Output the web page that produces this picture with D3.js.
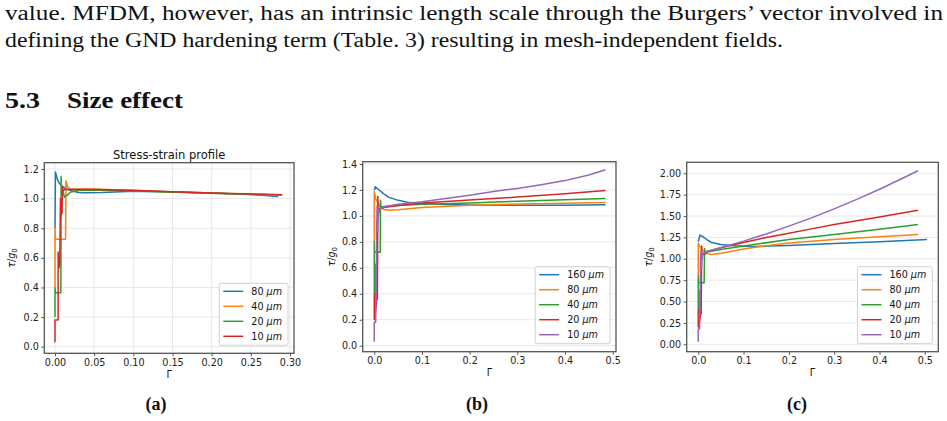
<!doctype html>
<html lang="en">
<head>
<meta charset="UTF-8">
<title>Size effect</title>
<script src="https://cdn.jsdelivr.net/npm/d3@7"></script>
<style>
  body { margin: 0; background: #fff; }
  svg text { font-family: "DejaVu Sans", sans-serif; }
  svg text.paper { font-family: "Liberation Serif", "DejaVu Serif", serif; fill: #111; }
</style>
</head>
<body>
<script>
// ---- data: [Gamma, tau/g0] ----
// (a) stress-strain profile
const sizesA = ["80", "40", "20", "10"];
const a80 = [[0,0.8],[0.0005,1.18],[0.003,1.13],[0.006,1.1],[0.01,1.08],[0.015,1.065],[0.02,1.055],[0.03,1.042],[0.04,1.039],[0.06,1.041],[0.1,1.05],[0.15,1.047],[0.2,1.038],[0.25,1.027],[0.285,1.015]];
const a40 = [[0,0.4],[0,0.8],[0.0005,0.725],[0.0135,0.725],[0.014,1.12],[0.016,1.08],[0.02,1.065],[0.05,1.065],[0.1,1.055],[0.15,1.045],[0.2,1.036],[0.25,1.029],[0.29,1.025]];
const a20 = [[0,0.2],[0,0.4],[0.0005,0.365],[0.0075,0.365],[0.0078,1.15],[0.0082,1.02],[0.009,1.08],[0.012,1.01],[0.015,1.02],[0.02,1.045],[0.03,1.055],[0.05,1.058],[0.1,1.052],[0.2,1.036],[0.29,1.025]];
const a10 = [[0,0.03],[0,0.18],[0.004,0.18],[0.004,0.64],[0.005,0.53],[0.006,0.56],[0.007,1.0],[0.0075,0.88],[0.008,0.95],[0.009,0.9],[0.0095,1.08],[0.01,1.05],[0.012,1.062],[0.05,1.062],[0.1,1.056],[0.15,1.046],[0.2,1.038],[0.25,1.031],[0.29,1.027]];

// (b)
const sizesB = ["160", "80", "40", "20", "10"];
const b160 = [[0,1.2],[0.002,1.225],[0.01,1.2],[0.02,1.17],[0.03,1.145],[0.05,1.12],[0.07,1.105],[0.1,1.095],[0.15,1.088],[0.2,1.084],[0.3,1.082],[0.4,1.083],[0.485,1.086]];
const b80 = [[0,0.8],[0,1.19],[0.003,1.13],[0.008,1.1],[0.012,1.07],[0.02,1.05],[0.03,1.043],[0.05,1.047],[0.1,1.065],[0.2,1.083],[0.3,1.092],[0.4,1.098],[0.485,1.103]];
const b40 = [[0,0.4],[0,0.8],[0.0005,0.72],[0.0125,0.72],[0.013,1.12],[0.014,1.06],[0.016,1.07],[0.03,1.075],[0.05,1.08],[0.1,1.09],[0.2,1.1],[0.3,1.113],[0.4,1.124],[0.485,1.135]];
const b20 = [[0,0.2],[0,0.4],[0.001,0.2],[0.0055,0.365],[0.0058,0.53],[0.0065,0.36],[0.0075,1.15],[0.0085,1.0],[0.01,1.05],[0.02,1.065],[0.05,1.08],[0.1,1.1],[0.2,1.123],[0.3,1.145],[0.4,1.17],[0.485,1.195]];
const b10 = [[0,0.03],[0,0.18],[0.003,0.18],[0.003,0.63],[0.004,0.4],[0.005,0.9],[0.006,1.08],[0.007,0.88],[0.008,1.0],[0.01,1.05],[0.02,1.07],[0.05,1.09],[0.1,1.11],[0.15,1.135],[0.2,1.16],[0.25,1.188],[0.3,1.212],[0.35,1.24],[0.4,1.272],[0.45,1.315],[0.485,1.355]];

// (c)
const sizesC = ["160", "80", "40", "20", "10"];
const c160 = [[0,1.2],[0.004,1.278],[0.01,1.26],[0.02,1.22],[0.03,1.19],[0.05,1.168],[0.08,1.152],[0.12,1.145],[0.2,1.155],[0.3,1.178],[0.4,1.2],[0.505,1.225]];
const c80 = [[0,0.8],[0,1.18],[0.005,1.13],[0.01,1.1],[0.02,1.06],[0.03,1.05],[0.05,1.065],[0.1,1.115],[0.15,1.152],[0.2,1.185],[0.3,1.225],[0.4,1.258],[0.485,1.285]];
const c40 = [[0,0.4],[0,0.8],[0.0005,0.72],[0.013,0.72],[0.014,1.12],[0.015,1.05],[0.02,1.08],[0.05,1.11],[0.1,1.15],[0.2,1.225],[0.3,1.285],[0.4,1.345],[0.485,1.4]];
const c20 = [[0,0.2],[0,0.4],[0.001,0.2],[0.0055,0.36],[0.0058,0.52],[0.0065,0.36],[0.0075,1.15],[0.0085,1.0],[0.01,1.05],[0.02,1.09],[0.05,1.13],[0.1,1.19],[0.15,1.25],[0.2,1.3],[0.25,1.35],[0.3,1.4],[0.4,1.49],[0.485,1.568]];
const c10 = [[0,0.03],[0,0.18],[0.003,0.18],[0.003,0.63],[0.004,0.4],[0.005,0.9],[0.006,1.1],[0.007,0.88],[0.008,1.0],[0.01,1.06],[0.02,1.087],[0.05,1.13],[0.1,1.207],[0.15,1.291],[0.2,1.382],[0.25,1.479],[0.3,1.584],[0.35,1.695],[0.4,1.814],[0.45,1.939],[0.485,2.03]];

// tick values
const ticksAx = [0, 0.05, 0.1, 0.15, 0.2, 0.25, 0.3];
const ticksAy = [0, 0.2, 0.4, 0.6, 0.8, 1.0, 1.2];
const ticksBx = [0, 0.1, 0.2, 0.3, 0.4, 0.5];
const ticksBy = [0, 0.2, 0.4, 0.6, 0.8, 1.0, 1.2, 1.4];
const ticksCx = [0, 0.1, 0.2, 0.3, 0.4, 0.5];
const ticksCy = [0, 0.25, 0.5, 0.75, 1.0, 1.25, 1.5, 1.75, 2.0];

const colors = ["#1f77b4", "#ff7f0e", "#2ca02c", "#d62728", "#9467bd"];
const serif = "'Liberation Serif', 'DejaVu Serif', serif";

const svg = d3.select("body").append("svg")
    .attr("width", 947).attr("height", 421);
svg.append("rect").attr("width", 947).attr("height", 421).attr("fill", "#fff");

// ---- paper text ----
function paperText(x, y, size, len, str, bold) {
  svg.append("text").attr("class", "paper")
      .style("font-family", serif)
      .attr("x", x).attr("y", y).attr("font-size", size)
      .attr("font-weight", bold ? "bold" : null)
      .attr("textLength", len).attr("lengthAdjust", "spacingAndGlyphs")
      .text(str);
}
paperText(5, 20, 20, 938, "value.  MFDM, however, has an intrinsic length scale through the Burgers\u2019 vector involved in");
paperText(5, 47, 20, 778, "defining the GND hardening term (Table. 3) resulting in mesh-independent fields.");
paperText(5, 108, 24, 35, "5.3", true);
paperText(67, 108, 24, 116, "Size effect", true);

// ---- panels ----
function panel(p) {
  const x = d3.scaleLinear().domain(p.xDom).range([p.left, p.right]);
  const y = d3.scaleLinear().domain(p.yDom).range([p.bottom, p.top]);
  const g = svg.append("g");

  // grid
  if (p.vgrid) {
    g.append("g").selectAll("line").data(p.xTicks).join("line")
        .attr("x1", d => x(d)).attr("x2", d => x(d))
        .attr("y1", p.top).attr("y2", p.bottom)
        .attr("stroke", "#e8e8e8").attr("stroke-width", 1);
  }
  g.append("g").selectAll("line").data(p.yTicks).join("line")
      .attr("x1", p.left).attr("x2", p.right)
      .attr("y1", d => y(d)).attr("y2", d => y(d))
      .attr("stroke", "#e8e8e8").attr("stroke-width", 1);

  // curves
  const line = d3.line().x(d => x(d[0])).y(d => y(d[1]));
  p.series.forEach((s, i) => {
    g.append("path").attr("d", line(s))
        .attr("fill", "none").attr("stroke", colors[i])
        .attr("stroke-width", 1.5).attr("stroke-linejoin", "round");
  });

  // axes
  const xa = g.append("g").attr("transform", `translate(0,${p.bottom})`)
      .call(d3.axisBottom(x).tickValues(p.xTicks).tickFormat(d3.format(p.xFmt))
        .tickSize(3).tickPadding(2.5));
  const ya = g.append("g").attr("transform", `translate(${p.left},0)`)
      .call(d3.axisLeft(y).tickValues(p.yTicks).tickFormat(d3.format(p.yFmt))
        .tickSize(3).tickPadding(2.5));
  [xa, ya].forEach(a => {
    a.select(".domain").remove();
    a.attr("font-family", null).attr("font-size", null);
    a.selectAll("line").attr("stroke", "#555");
    a.selectAll("text").attr("fill", "#222").attr("font-size", 9.6);
  });

  // frame
  g.append("rect").attr("x", p.left).attr("y", p.top)
      .attr("width", p.right - p.left).attr("height", p.bottom - p.top)
      .attr("fill", "none").attr("stroke", "#555").attr("stroke-width", 1.3);

  // title
  if (p.title) {
    g.append("text").attr("x", (p.left + p.right) / 2).attr("y", p.top - 4)
        .attr("text-anchor", "middle").attr("font-size", 11.5).attr("fill", "#111")
        .text(p.title);
  }

  // axis labels
  g.append("text").attr("x", (p.left + p.right) / 2).attr("y", p.bottom + 24.5)
      .attr("text-anchor", "middle").attr("font-size", 9.6).attr("fill", "#111")
      .text("\u0393");
  const yl = g.append("text")
      .attr("transform", `translate(${p.ylabX},${(p.top + p.bottom) / 2}) rotate(-90)`)
      .attr("text-anchor", "middle").attr("font-size", 9.6).attr("fill", "#111");
  yl.append("tspan").attr("font-style", "italic").text("\u03c4");
  yl.append("tspan").text("/");
  yl.append("tspan").attr("font-style", "italic").text("g");
  yl.append("tspan").attr("font-size", 7).attr("dy", 2).text("0");

  // legend
  const rowH = 15, n = p.sizes.length;
  const lg = g.append("g");
  const box = lg.append("rect");
  let maxW = 0;
  p.sizes.forEach((s, i) => {
    const cy = i * rowH;
    lg.append("line").attr("x1", 4).attr("x2", 24).attr("y1", cy).attr("y2", cy)
        .attr("stroke", colors[i]).attr("stroke-width", 1.5);
    const t = lg.append("text").attr("x", 32).attr("y", cy).attr("dy", "0.35em")
        .attr("font-size", 9.6).attr("fill", "#111");
    t.append("tspan").text(s + " ");
    t.append("tspan").attr("font-style", "italic").text("\u03bcm");
    maxW = Math.max(maxW, t.node().getComputedTextLength());
  });
  const bw = 32 + maxW + 6, bh = n * rowH + 2;
  box.attr("x", 0).attr("y", -8).attr("width", bw).attr("height", bh)
      .attr("rx", 2).attr("fill", "#fff").attr("fill-opacity", 0.85)
      .attr("stroke", "#d0d0d0").attr("stroke-width", 1);
  lg.attr("transform", `translate(${p.right - 6 - bw},${p.bottom - bh})`);

  // caption
  svg.append("text").attr("class", "paper").style("font-family", serif)
      .attr("x", p.capX).attr("y", 410).attr("text-anchor", "middle")
      .attr("font-size", 18).attr("font-weight", "bold")
      .text(p.caption);
}

panel({
  left: 44.3, right: 294, top: 162.7, bottom: 353.3,
  xDom: [-0.01366, 0.3051], yDom: [-0.0446, 1.2426],
  xTicks: ticksAx, yTicks: ticksAy, xFmt: ".2f", yFmt: ".1f",
  vgrid: true, title: "Stress-strain profile",
  series: [a80, a40, a20, a10], sizes: sizesA,
  ylabX: 15, capX: 156, caption: "(a)"
});
panel({
  left: 362.7, right: 616, top: 161.7, bottom: 351.7,
  xDom: [-0.0243, 0.507], yDom: [-0.0462, 1.4177],
  xTicks: ticksBx, yTicks: ticksBy, xFmt: ".1f", yFmt: ".1f",
  vgrid: false, title: null,
  series: [b160, b80, b40, b20, b10], sizes: sizesB,
  ylabX: 335, capX: 477, caption: "(b)"
});
panel({
  left: 686.7, right: 938.3, top: 162.3, bottom: 351.7,
  xDom: [-0.0255, 0.5299], yDom: [-0.0865, 2.1287],
  xTicks: ticksCx, yTicks: ticksCy, xFmt: ".1f", yFmt: ".2f",
  vgrid: false, title: null,
  series: [c160, c80, c40, c20, c10], sizes: sizesC,
  ylabX: 652, capX: 797, caption: "(c)"
});
</script>
</body>
</html>
